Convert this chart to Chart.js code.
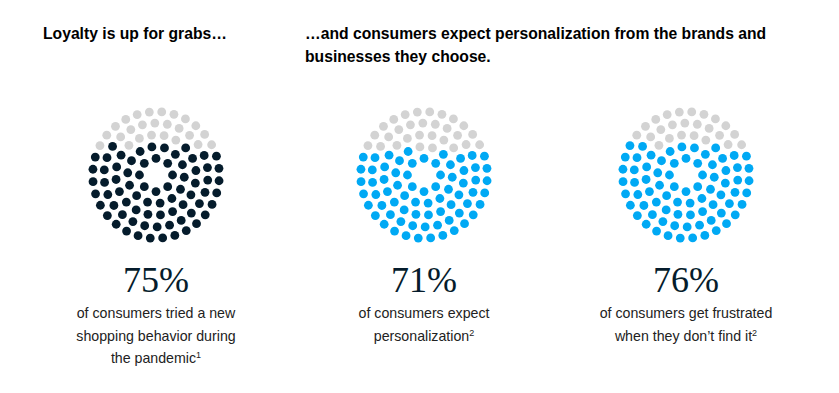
<!DOCTYPE html>
<html>
<head>
<meta charset="utf-8">
<script src="https://cdn.jsdelivr.net/npm/chart.js@4.4.0/dist/chart.umd.min.js"></script>
<style>
  body { margin: 0; width: 839px; height: 393px; background: #fff; position: relative; overflow: hidden;
         font-family: "Liberation Sans", Arial, sans-serif; }
  .heading { position: absolute; font-weight: bold; font-size: 15.7px; line-height: 23px; color: #000; }
  .dots { position: absolute; width: 160px; height: 160px; }
  .pct { position: absolute; width: 220px; text-align: center; font-family: "Liberation Serif", serif;
         font-size: 36px; line-height: 38px; color: #051c2c; }
  .cap { position: absolute; width: 220px; text-align: center; font-size: 14.2px; line-height: 22.5px; color: #222; }
  .cap sup { font-size: 9px; vertical-align: 5px; line-height: 0; }
</style>
</head>
<body>
<script>
// headings
const headings = ["Loyalty is up for grabs\u2026", "\u2026and consumers expect personalization from the brands and<br>businesses they choose."];
const headingX = [43, 305];

// one panel per stat
const percentValues = [75, 71, 76];
const percentLabels = ["75%", "71%", "76%"];
const captions = [
  "of consumers tried a new<br>shopping behavior during<br>the pandemic<sup>1</sup>",
  "of consumers expect<br>personalization<sup>2</sup>",
  "of consumers get frustrated<br>when they don\u2019t find it<sup>2</sup>"
];
const fillColors = ["#051c2c", "#00a9f4", "#00a9f4"];
const emptyColor = "#d3d3d3";
const centersX = [156, 424, 686];
const centerY = 175;

// dot layout: concentric rings, 100 dots in total
const ringRadii = [17.5, 30, 42.5, 55, 67];
const ringCounts = [8, 14, 20, 26, 32];

function buildDots() {
  let pts = [];
  ringRadii.forEach((r, i) => {
    const n = ringCounts[i];
    const offset = i * 0.37;
    for (let k = 0; k < n; k++) {
      const a = offset + (k / n) * Math.PI * 2;
      pts.push({ x: r * Math.cos(a), y: r * Math.sin(a) });
    }
  });
  // fill from the bottom up
  pts.sort((p, q) => p.y - q.y);
  return pts;
}

headings.forEach((h, i) => {
  const d = document.createElement("div");
  d.className = "heading";
  d.style.left = headingX[i] + "px";
  d.style.top = "22px";
  d.innerHTML = h;
  document.body.appendChild(d);
});

percentValues.forEach((v, i) => {
  const dots = buildDots();
  const filled = dots.slice(0, v);
  const empty = dots.slice(v);

  const c = document.createElement("canvas");
  c.className = "dots";
  c.width = 160; c.height = 160;
  c.style.left = (centersX[i] - 80) + "px";
  c.style.top = (centerY - 80) + "px";
  document.body.appendChild(c);

  new Chart(c, {
    type: "scatter",
    data: {
      datasets: [
        { data: filled, backgroundColor: fillColors[i], borderWidth: 0, pointRadius: 4.4 },
        { data: empty, backgroundColor: emptyColor, borderWidth: 0, pointRadius: 4.4 }
      ]
    },
    options: {
      responsive: false,
      animation: false,
      events: [],
      layout: { padding: 0 },
      plugins: { legend: { display: false }, tooltip: { enabled: false } },
      scales: {
        x: { type: "linear", min: -80, max: 80, display: false },
        y: { type: "linear", min: -80, max: 80, display: false }
      }
    }
  });

  const p = document.createElement("div");
  p.className = "pct";
  p.style.left = (centersX[i] - 110) + "px";
  p.style.top = "261px";
  p.textContent = percentLabels[i];
  document.body.appendChild(p);

  const cap = document.createElement("div");
  cap.className = "cap";
  cap.style.left = (centersX[i] - 110) + "px";
  cap.style.top = "302px";
  cap.innerHTML = captions[i];
  document.body.appendChild(cap);
});
</script>
</body>
</html>
